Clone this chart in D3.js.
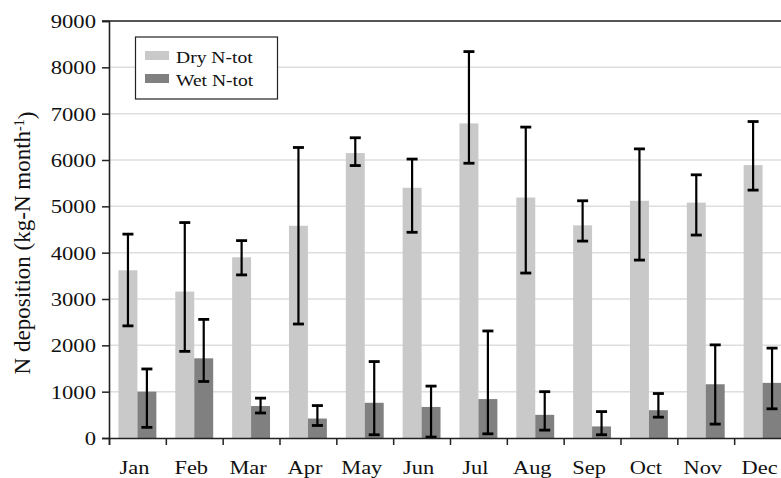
<!DOCTYPE html>
<html>
<head>
<meta charset="utf-8">
<script src="https://cdn.jsdelivr.net/npm/d3@7"></script>
<style>
  html, body { margin: 0; padding: 0; background: #fff; }
  svg { display: block; }
  svg text { font-family: "Liberation Serif", "Times New Roman", serif !important; fill: #111; }
</style>
</head>
<body>
<svg id="chart" width="781" height="478" font-family="Liberation Serif"></svg>
<script>
// Monthly nitrogen deposition, dry and wet totals with error ranges
const months = ["Jan", "Feb", "Mar", "Apr", "May", "Jun", "Jul", "Aug", "Sep", "Oct", "Nov", "Dec"];
const seriesNames = ["Dry N-tot", "Wet N-tot"];

const dryTot = [3620, 3160, 3900, 4580, 6150, 5400, 6790, 5190, 4590, 5120, 5080, 5890];
const dryHigh = [4400, 4650, 4260, 6270, 6480, 6020, 8340, 6710, 5120, 6240, 5680, 6830];
const dryLow = [2420, 1870, 3520, 2460, 5880, 4440, 5930, 3560, 4250, 3840, 4380, 5350];

const wetTot = [1000, 1720, 690, 420, 760, 670, 840, 500, 250, 600, 1160, 1190];
const wetHigh = [1490, 2560, 860, 700, 1650, 1120, 2310, 1000, 570, 960, 2010, 1940];
const wetLow = [230, 1220, 540, 270, 70, 20, 90, 170, 70, 450, 300, 630];

const yTicks = [0, 1000, 2000, 3000, 4000, 5000, 6000, 7000, 8000, 9000];

const colors = { "Dry N-tot": "#c9c9c9", "Wet N-tot": "#808080" };
const serif = "Liberation Serif, Times New Roman, serif";

const rows = months.map((m, i) => ({
  month: m,
  values: [
    { key: "Dry N-tot", v: dryTot[i], lo: dryLow[i], hi: dryHigh[i] },
    { key: "Wet N-tot", v: wetTot[i], lo: wetLow[i], hi: wetHigh[i] }
  ]
}));

const svg = d3.select("#chart");
const plot = { left: 109, right: 791, top: 21, bottom: 438 };
const hStretch = 1.18;

// widen horizontal labels slightly
function widen(sel) {
  sel.each(function () {
    const w = this.getComputedTextLength();
    d3.select(this).attr("textLength", w * hStretch).attr("lengthAdjust", "spacingAndGlyphs");
  });
}

const x0 = d3.scaleBand().domain(months).range([plot.left, plot.right]).padding(0);
const x1 = d3.scaleBand().domain(seriesNames).range([0, x0.bandwidth()]).paddingInner(0).paddingOuter(0.5);
const y = d3.scaleLinear().domain([0, 9000]).range([plot.bottom, plot.top]);
const xIdx = d3.scaleLinear().domain([0, months.length]).range([plot.left, plot.right]);

// gridlines
svg.append("g")
  .selectAll("line")
  .data(yTicks.filter(t => t > 0 && t < 9000))
  .join("line")
  .attr("x1", plot.left).attr("x2", plot.right)
  .attr("y1", d => y(d)).attr("y2", d => y(d))
  .attr("stroke", "#dedede").attr("stroke-width", 1.5);

// top frame line
svg.append("line")
  .attr("x1", plot.left - 7).attr("x2", plot.right)
  .attr("y1", y(9000)).attr("y2", y(9000))
  .attr("stroke", "#555").attr("stroke-width", 1.8);

// bars
const groups = svg.append("g")
  .selectAll("g")
  .data(rows)
  .join("g")
  .attr("transform", d => `translate(${x0(d.month)},0)`);

groups.selectAll("rect")
  .data(d => d.values)
  .join("rect")
  .attr("x", d => x1(d.key))
  .attr("width", x1.bandwidth())
  .attr("y", d => y(d.v))
  .attr("height", d => y(0) - y(d.v))
  .attr("fill", d => colors[d.key]);

// error bars
const err = groups.selectAll("g.err")
  .data(d => d.values)
  .join("g")
  .attr("class", "err")
  .attr("transform", d => `translate(${x1(d.key) + x1.bandwidth() / 2},0)`);

err.append("line")
  .attr("x1", 0).attr("x2", 0)
  .attr("y1", d => y(d.hi)).attr("y2", d => y(d.lo))
  .attr("stroke", "#000").attr("stroke-width", 2.2);
err.selectAll("line.cap")
  .data(d => [d.hi, d.lo])
  .join("line")
  .attr("class", "cap")
  .attr("x1", -5.5).attr("x2", 5.5)
  .attr("y1", d => y(d)).attr("y2", d => y(d))
  .attr("stroke", "#000").attr("stroke-width", 2.8);

// y axis
const yAxis = svg.append("g")
  .attr("transform", `translate(${plot.left},0)`)
  .call(d3.axisLeft(y).tickValues(yTicks).tickSize(7).tickPadding(6).tickFormat(d3.format("d")))
  .attr("font-family", serif).attr("font-size", null);
yAxis.select(".domain").attr("stroke", "#222").attr("stroke-width", 1.6);
yAxis.selectAll(".tick line").attr("stroke", "#222").attr("stroke-width", 1.5);
yAxis.selectAll(".tick text")
  .attr("font-family", serif)
  .attr("font-size", 19.2)
  .attr("fill", "#111")
  .attr("dy", "0.33em")
  .call(widen);

// x axis: boundary ticks
const xTickAxis = svg.append("g")
  .attr("transform", `translate(0,${plot.bottom})`)
  .call(d3.axisBottom(xIdx).tickValues(d3.range(months.length + 1)).tickSize(7).tickFormat(""));
xTickAxis.select(".domain").attr("stroke", "#222").attr("stroke-width", 1.6);
xTickAxis.selectAll(".tick line").attr("stroke", "#222").attr("stroke-width", 1.5);

// x axis: month labels
const xAxis = svg.append("g")
  .attr("transform", `translate(0,${plot.bottom})`)
  .call(d3.axisBottom(x0).tickSize(0).tickPadding(0))
  .attr("font-family", serif).attr("font-size", null);
xAxis.select(".domain").remove();
xAxis.selectAll(".tick text")
  .attr("font-family", serif)
  .attr("font-size", 19)
  .attr("fill", "#111")
  .attr("x", -3)
  .attr("dy", null)
  .attr("y", 36)
  .call(widen);

// y axis title
const title = svg.append("text")
  .attr("transform", "translate(30,243) rotate(-90)")
  .attr("text-anchor", "middle")
  .attr("font-family", serif)
  .attr("font-size", 23);
title.append("tspan").text("N deposition (kg-N month");
title.append("tspan").attr("dy", "-0.45em").attr("font-size", 14).text("-1");
title.append("tspan").attr("dy", "0.45em").attr("font-size", 23).text(")");

// legend
const legend = svg.append("g");
legend.append("rect")
  .attr("x", 135.5).attr("y", 37)
  .attr("width", 142).attr("height", 62)
  .attr("fill", "#fff").attr("stroke", "#222").attr("stroke-width", 1.2);
const item = legend.selectAll("g.item")
  .data(seriesNames)
  .join("g")
  .attr("class", "item")
  .attr("transform", (d, i) => `translate(145,${51 + i * 23})`);
item.append("rect")
  .attr("width", 24).attr("height", 9)
  .attr("fill", d => colors[d]);
item.append("text")
  .attr("x", 31).attr("y", 11.7)
  .attr("font-family", serif)
  .attr("font-size", 16.6)
  .text(d => d)
  .call(widen);
</script>
</body>
</html>
